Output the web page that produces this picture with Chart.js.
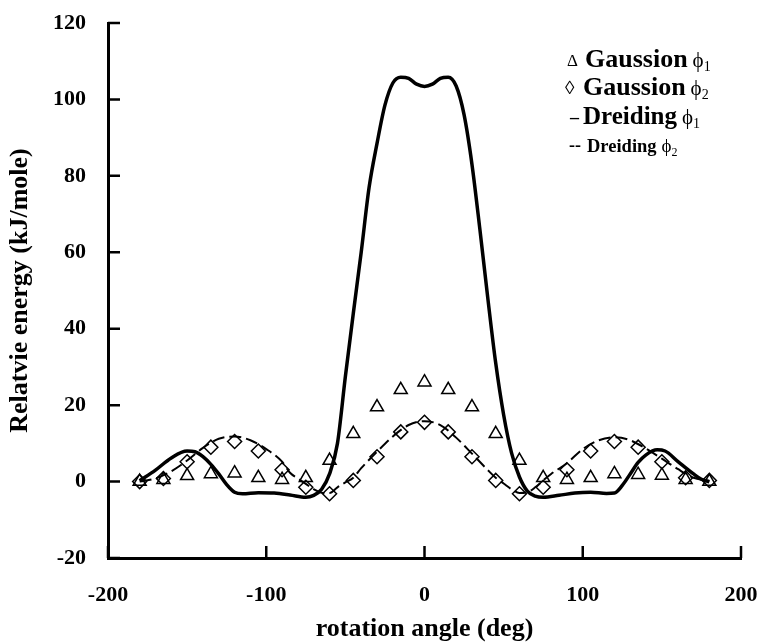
<!DOCTYPE html>
<html>
<head>
<meta charset="utf-8">
<script src="https://cdn.jsdelivr.net/npm/chart.js@4.4.0/dist/chart.umd.min.js"></script>
<style>
  html, body { margin: 0; padding: 0; background: #fff; }
  #wrap { width: 763px; height: 642px; position: relative; }
</style>
</head>
<body>
<div id="wrap"><canvas id="energyChart"></canvas></div>
<script>
// Gaussian points every 15 deg
const gaussAngles = [-180, -165, -150, -135, -120, -105, -90, -75, -60, -45, -30, -15, 0,
                     15, 30, 45, 60, 75, 90, 105, 120, 135, 150, 165, 180];
const gaussPhi1 = [0, 0.5, 1.5, 2, 2.2, 1, 0.5, 1, 5.5, 12.5, 19.5, 24, 26,
                   24, 19.5, 12.5, 5.5, 1, 0.5, 1, 2, 1.8, 1.6, 0.5, 0];
const gaussPhi2 = [0, 0.8, 5.2, 9, 10.5, 8, 3.1, -1.5, -3.2, 0.3, 6.5, 13, 15.5,
                   13, 6.5, 0.3, -3.2, -1.5, 3.1, 8, 10.5, 9, 5.2, 1, 0.3];

// Dreiding curves
const dreid1Angles = [-180, -170, -160, -150, -145, -140, -135, -130, -125, -120, -115, -105, -95, -85, -75, -70, -65,
                      -60, -55, -50, -45, -40, -35, -30, -25, -20, -15, -10, -5, 0,
                      5, 10, 15, 20, 25, 30, 35, 40, 45, 50, 55, 60, 65, 70, 75, 85, 95, 105, 115, 120,
                      125, 130, 135, 140, 147, 152, 160, 170, 175, 180];
const dreid1 = [0.2, 3, 6.2, 8, 7.8, 6.5, 4.5, 2, -0.8, -2.8, -3.2, -2.9, -3, -3.5, -4.1, -3.6, -2,
                2, 10, 27.5, 44, 60, 77, 88.5, 98.5, 104.3, 105.8, 105.5, 104, 103.4,
                104, 105.5, 105.8, 103.5, 96, 83, 66, 48, 31, 17.5, 7.5, 1.2, -2.5, -3.8, -4.1, -3.6, -3, -2.8, -3.1, -3,
                -1, 2, 5, 7, 8.3, 8, 5.3, 2, 0.6, -0.1];

const dreid2Angles = [-180, -170, -160, -150, -140, -130, -120, -110, -100, -90, -85, -80, -75, -70, -65,
                      -60, -55, -50, -45, -40, -30, -20, -10, 0, 10, 20, 30, 40, 45, 50, 55,
                      60, 65, 70, 75, 80, 90, 100, 110, 120, 130, 140, 150, 160, 170, 180];
const dreid2 = [0, 0.8, 2.7, 5.5, 8.8, 11.2, 11.8, 10.8, 8.5, 5.2, 2.3, 0.8, -0.6, -2, -2.9,
                -3, -1.5, -0.2, 1, 3.5, 7.8, 11.8, 14.8, 15.8, 14.8, 11.5, 7.3, 3, 1, -0.5, -2,
                -3, -2.8, -1.5, 0.3, 2, 4.8, 8.5, 10.8, 11.6, 10.8, 8.6, 6, 3.3, 1, 0.2];

const xTicks = [-200, -100, 0, 100, 200];
const yTicks = [-20, 0, 20, 40, 60, 80, 100, 120];

const legendSymbols = ['\u0394', '\u25CA', '\u2013', '--'];
const legendNames = ['Gaussion', 'Gaussion', 'Dreiding', 'Dreiding'];
const legendSubs = ['1', '2', '1', '2'];

const serif = '"Liberation Serif", "Times New Roman", serif';

function toPoints(xs, ys) {
    return xs.map((x, i) => ({ x: x, y: ys[i] }));
}

// small tick marks pointing into the plot
const innerTicks = {
    id: 'innerTicks',
    afterDatasetsDraw(chart) {
        const ctx = chart.ctx;
        const area = chart.chartArea;
        const xs = chart.scales.x, ys = chart.scales.y;
        ctx.save();
        ctx.strokeStyle = '#000';
        ctx.lineWidth = 2.5;
        ctx.beginPath();
        xTicks.forEach(v => {
            const px = xs.getPixelForValue(v);
            ctx.moveTo(px, area.bottom);
            ctx.lineTo(px, area.bottom - 12);
        });
        yTicks.forEach(v => {
            const py = ys.getPixelForValue(v);
            ctx.moveTo(area.left, py);
            ctx.lineTo(area.left + 12, py);
        });
        ctx.stroke();
        ctx.restore();
    }
};

// text legend in the top right corner
const textLegend = {
    id: 'textLegend',
    afterDraw(chart) {
        const ctx = chart.ctx;
        const r = chart.chartArea.right;
        const baselines = [67, 95, 124, 152];
        const symX = [r - 174, r - 176, r - 171, r - 172];
        const symFont = ['17px', '19px', 'bold 18px', 'bold 18px'];
        const symDy = [-1, -1, -1, -1];
        const nameX = [r - 156, r - 158, r - 158, r - 154];
        const nameSize = [26, 26, 25, 18.5];
        ctx.save();
        ctx.fillStyle = '#000';
        ctx.textBaseline = 'alphabetic';
        ctx.textAlign = 'left';
        for (let i = 0; i < legendNames.length; i++) {
            const y = baselines[i];
            ctx.font = symFont[i] + ' ' + serif;
            ctx.fillText(legendSymbols[i], symX[i], y + symDy[i]);
            ctx.font = 'bold ' + nameSize[i] + 'px ' + serif;
            ctx.fillText(legendNames[i], nameX[i], y);
            let px = nameX[i] + ctx.measureText(legendNames[i]).width + 5;
            const phiSize = i < 3 ? 21 : 19;
            ctx.font = phiSize + 'px ' + serif;
            ctx.fillText('\u03D5', px, y);
            px += ctx.measureText('\u03D5').width;
            ctx.font = Math.round(phiSize * 0.65) + 'px ' + serif;
            ctx.fillText(legendSubs[i], px, y + 4);
        }
        ctx.restore();
    }
};

const ctx = document.getElementById('energyChart');

new Chart(ctx, {
    type: 'scatter',
    data: {
        datasets: [{
            label: 'Gaussion phi1',
            data: toPoints(gaussAngles, gaussPhi1),
            showLine: false,
            pointStyle: 'triangle',
            pointRadius: 7.5,
            pointBorderWidth: 1.5,
            pointBorderColor: '#000',
            pointBackgroundColor: 'rgba(0,0,0,0)'
        }, {
            label: 'Gaussion phi2',
            data: toPoints(gaussAngles, gaussPhi2),
            showLine: false,
            pointStyle: 'rectRot',
            pointRadius: 7,
            pointBorderWidth: 1.5,
            pointBorderColor: '#000',
            pointBackgroundColor: 'rgba(0,0,0,0)'
        }, {
            label: 'Dreiding phi1',
            data: toPoints(dreid1Angles, dreid1),
            showLine: true,
            borderColor: '#000',
            borderWidth: 3.5,
            pointRadius: 0,
            cubicInterpolationMode: 'monotone'
        }, {
            label: 'Dreiding phi2',
            data: toPoints(dreid2Angles, dreid2),
            showLine: true,
            borderColor: '#000',
            borderWidth: 2,
            borderDash: [12, 5],
            pointRadius: 0,
            cubicInterpolationMode: 'monotone'
        }]
    },
    options: {
        responsive: true,
        maintainAspectRatio: false,
        animation: false,
        devicePixelRatio: 1,
        layout: { padding: { left: 0, right: 22, top: 23, bottom: 0 } },
        plugins: {
            legend: { display: false },
            tooltip: { enabled: false }
        },
        scales: {
            x: {
                type: 'linear',
                min: -200,
                max: 200,
                afterBuildTicks: (scale) => { scale.ticks = xTicks.map(v => ({ value: v })); },
                afterFit: (scale) => { scale.height = 84; },
                // tickLength only offsets the labels, the visible ticks come from innerTicks
                grid: { display: false, drawTicks: true, tickLength: 22 },
                border: { display: true, color: '#000', width: 3 },
                ticks: {
                    color: '#000',
                    padding: 2,
                    maxRotation: 0,
                    font: { family: serif, size: 22, weight: 'bold' }
                },
                title: {
                    display: true,
                    text: 'rotation angle (deg)',
                    color: '#000',
                    padding: { top: 0, bottom: 0 },
                    font: { family: serif, size: 26, weight: 'bold', lineHeight: 1 }
                }
            },
            y: {
                min: -20,
                max: 120,
                afterBuildTicks: (scale) => { scale.ticks = yTicks.map(v => ({ value: v })); },
                afterFit: (scale) => { scale.width = 108; },
                grid: { display: false, drawTicks: true, tickLength: 20 },
                border: { display: true, color: '#000', width: 3 },
                ticks: {
                    color: '#000',
                    padding: 2,
                    font: { family: serif, size: 22, weight: 'bold' }
                },
                title: {
                    display: true,
                    text: 'Relatvie energy (kJ/mole)',
                    color: '#000',
                    padding: { top: 7, bottom: 0 },
                    font: { family: serif, size: 26, weight: 'bold', lineHeight: 1 }
                }
            }
        }
    },
    plugins: [innerTicks, textLegend]
});
</script>
</body>
</html>
